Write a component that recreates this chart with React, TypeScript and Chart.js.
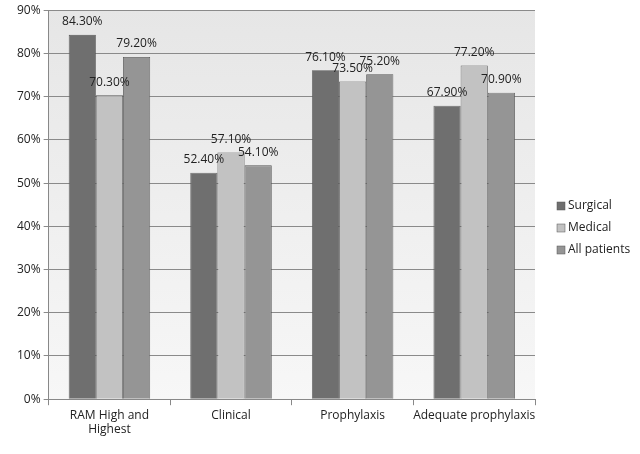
import React, { useEffect, useRef } from "react";
import { Chart, registerables } from "chart.js";
Chart.register(...registerables);

const categories = [["RAM High and", "Highest"], "Clinical", "Prophylaxis", "Adequate prophylaxis"];
const surgical = [84.3, 52.4, 76.1, 67.9];
const medical = [70.3, 57.1, 73.5, 77.2];
const allPatients = [79.2, 54.1, 75.2, 70.9];
const seriesNames = ["Surgical", "Medical", "All patients"];
const colors = ["#6f6f6f", "#c2c2c2", "#959595"];

const FONT = "'Open Sans', 'Noto Sans', sans-serif";

export default function App() {
  const ref = useRef<HTMLCanvasElement>(null);
  useEffect(() => {
    const bg = {
      id: "bg",
      beforeDraw(chart: any) {
        const { ctx, chartArea: a } = chart;
        const g = ctx.createLinearGradient(0, a.top, 0, a.bottom);
        g.addColorStop(0, "#e6e6e6");
        g.addColorStop(1, "#f7f7f7");
        ctx.save();
        ctx.fillStyle = g;
        ctx.fillRect(a.left, a.top, a.right - a.left, a.bottom - a.top);
        ctx.restore();
      },
      afterDraw(chart: any) {
        const { ctx } = chart;
        ctx.save();
        ctx.font = `12px ${FONT}`;
        ctx.fillStyle = "#222";
        ctx.textAlign = "center";
        ctx.textBaseline = "bottom";
        chart.data.datasets.forEach((ds: any, i: number) => {
          chart.getDatasetMeta(i).data.forEach((bar: any, j: number) => {
            ctx.fillText(ds.data[j].toFixed(2) + "%", bar.x, bar.y - 7);
          });
        });
        ctx.textAlign = "left";
        ctx.textBaseline = "middle";
        seriesNames.forEach((n, i) => {
          const y = 206 + i * 22;
          ctx.fillStyle = colors[i];
          ctx.fillRect(557, y - 4, 8, 8);
          ctx.strokeStyle = "#555";
          ctx.lineWidth = 0.5;
          ctx.strokeRect(557, y - 4, 8, 8);
          ctx.fillStyle = "#222";
          ctx.fillText(n, 568, y);
        });
        ctx.restore();
      },
    };
    const chart = new Chart(ref.current!, {
      type: "bar",
      data: {
        labels: categories as any,
        datasets: [surgical, medical, allPatients].map((d, i) => ({
          label: seriesNames[i],
          data: d,
          backgroundColor: colors[i],
          borderColor: "#555",
          borderWidth: 0.8,
          barPercentage: 1,
          categoryPercentage: 0.67,
        })),
      },
      options: {
        animation: false,
        responsive: false,
        layout: { padding: { top: 9, right: 105, left: 14, bottom: 14 } },
        plugins: { legend: { display: false }, tooltip: { enabled: false } },
        scales: {
          y: {
            min: 0,
            max: 90,
            ticks: { stepSize: 10, callback: (v: any) => v + "%", color: "#222", font: { family: FONT, size: 12 } },
            grid: { color: "#8a8a8a", drawTicks: true, tickLength: 5 },
            border: { color: "#888" },
          },
          x: {
            ticks: { color: "#222", font: { family: FONT, size: 12 }, maxRotation: 0, autoSkip: false },
            grid: { display: true, drawOnChartArea: false, offset: true, tickLength: 6, color: "#888" },
            border: { color: "#888" },
          },
        },
      },
      plugins: [bg],
    });
    return () => chart.destroy();
  }, []);
  return (
    <div style={{ position: "fixed", left: 0, top: 0, width: 640, height: 454, background: "#fff" }}>
      <canvas ref={ref} width={640} height={454} />
    </div>
  );
}
